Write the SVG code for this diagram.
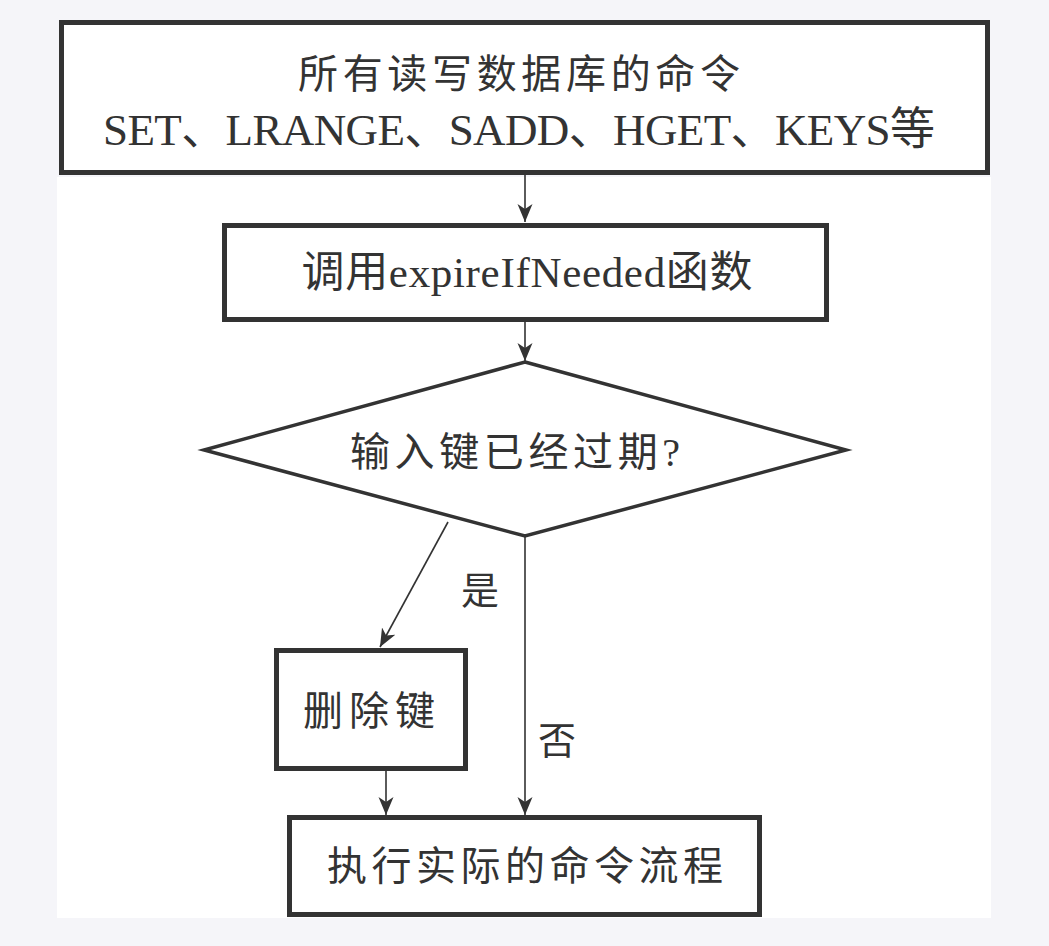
<svg xmlns="http://www.w3.org/2000/svg" width="1049" height="946" viewBox="0 0 1049 946">
<defs>
<style>
.box{fill:#fff;stroke:#333;stroke-width:5}
.dia{fill:#fff;stroke:#333;stroke-width:3.5}
.edge{fill:none;stroke:#333;stroke-width:1.6}
.t{font-family:"Liberation Serif","Noto Sans CJK SC",serif;font-size:40px;fill:#333;text-anchor:middle}
.lat{font-size:45px}
.lbl{font-family:"Liberation Serif","Noto Sans CJK SC",serif;font-size:38px;fill:#333;text-anchor:middle}
</style>
<marker id="arr" markerWidth="20" markerHeight="18" refX="18" refY="8" orient="auto" markerUnits="userSpaceOnUse">
<path d="M0,0.5 L18,8 L0,15.5 L5,8 Z" fill="#333"/>
</marker>
</defs>
<rect width="1049" height="946" fill="#f5f5f9"/>
<rect x="57" y="177" width="934" height="741" fill="#fff"/>
<g id="connectors">
<line class="edge" x1="525" y1="175" x2="525" y2="222" marker-end="url(#arr)"/>
<line class="edge" x1="525" y1="322" x2="525" y2="361" marker-end="url(#arr)"/>
<line class="edge" x1="448" y1="522" x2="380" y2="647" marker-end="url(#arr)"/>
<line class="edge" x1="525" y1="535" x2="525" y2="815" marker-end="url(#arr)"/>
<line class="edge" x1="386" y1="771" x2="386" y2="815" marker-end="url(#arr)"/>
<text class="lbl" x="480" y="604">是</text>
<text class="lbl" x="557" y="754">否</text>
</g>
<g id="n1">
<rect class="box" x="61.5" y="22.5" width="926" height="150"/>
<text class="t" x="519" y="88" textLength="442" lengthAdjust="spacing">所有读写数据库的命令</text>
<text class="t lat" x="519" y="145" textLength="832" lengthAdjust="spacing">SET、LRANGE、SADD、HGET、KEYS等</text>
</g>
<g id="n2">
<rect class="box" x="224.5" y="225.5" width="602" height="94"/>
<text class="t" x="527" y="287" style="font-size:43px" textLength="451" lengthAdjust="spacing">调用expireIfNeeded函数</text>
</g>
<g id="n3">
<polygon class="dia" points="525,362 846,450 525,536 204,450"/>
<text class="t" x="515" y="466" textLength="330" lengthAdjust="spacing">输入键已经过期?</text>
</g>
<g id="n4">
<rect class="box" x="276.5" y="650.5" width="189" height="118"/>
<text class="t" x="369" y="725" textLength="132" lengthAdjust="spacing">删除键</text>
</g>
<g id="n5">
<rect class="box" x="289.5" y="817.5" width="470" height="97"/>
<text class="t" x="525" y="880" textLength="396" lengthAdjust="spacing">执行实际的命令流程</text>
</g>
</svg>
